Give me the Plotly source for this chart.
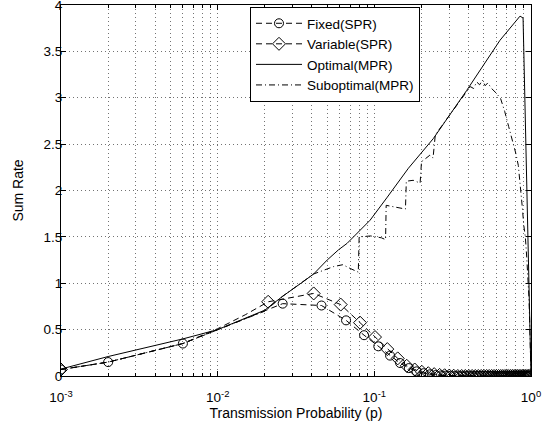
import plotly.graph_objects as go

# ---------------- data ----------------
fixed_p = [0.001, 0.002, 0.006, 0.026, 0.046, 0.066, 0.086, 0.106, 0.126, 0.146,
           0.166, 0.186, 0.206, 0.226, 0.246, 0.266, 0.286, 0.306, 0.326, 0.346,
           0.366, 0.386, 0.406, 0.426, 0.446, 0.466, 0.486, 0.506, 0.526, 0.546,
           0.566, 0.586, 0.606, 0.626, 0.646, 0.666, 0.686, 0.706, 0.726, 0.746,
           0.766, 0.786, 0.806, 0.826, 0.846, 0.866, 0.886, 0.906, 0.926, 0.946,
           0.966, 0.986]
fixed_rate = [0.07, 0.15, 0.35, 0.78, 0.76, 0.60, 0.44, 0.32, 0.22, 0.14,
              0.085, 0.05, 0.03, 0.018, 0.01, 0.006, 0.004, 0.002, 0, 0,
              0, 0, 0, 0, 0, 0, 0, 0, 0, 0,
              0, 0, 0, 0, 0, 0, 0, 0, 0, 0,
              0, 0, 0, 0, 0, 0, 0, 0, 0, 0,
              0, 0]

variable_p = [0.001, 0.002, 0.006, 0.01, 0.015, 0.021, 0.041, 0.061, 0.081, 0.101,
              0.121, 0.141, 0.161, 0.181, 0.201, 0.221, 0.241, 0.261, 0.281, 0.301,
              0.321, 0.341, 0.361, 0.381, 0.401, 0.421, 0.441, 0.461, 0.481, 0.501,
              0.521, 0.541, 0.561, 0.581, 0.601, 0.621, 0.641, 0.661, 0.681, 0.701,
              0.721, 0.741, 0.761, 0.781, 0.801, 0.821, 0.841, 0.861, 0.881, 0.901,
              0.921, 0.941, 0.961, 0.981]
variable_rate = [0.07, 0.15, 0.35, 0.51, 0.66, 0.80, 0.89, 0.77, 0.575, 0.42,
                 0.29, 0.19, 0.11, 0.07, 0.045, 0.03, 0.02, 0.012, 0.008, 0.005,
                 0.003, 0, 0, 0, 0, 0, 0, 0, 0, 0,
                 0, 0, 0, 0, 0, 0, 0, 0, 0, 0,
                 0, 0, 0, 0, 0, 0, 0, 0, 0, 0,
                 0, 0, 0, 0]
# points of the Variable(SPR) curve that carry a diamond marker
variable_marked_p = [0.001] + [p for p in variable_p if p >= 0.02]

optimal_p = [0.001, 0.002, 0.006, 0.01, 0.02, 0.026, 0.034, 0.041, 0.05, 0.059,
             0.067, 0.094, 0.12, 0.165, 0.238, 0.389, 0.634, 0.851, 0.89, 1.0]
optimal_rate = [0.075, 0.21, 0.40, 0.50, 0.71, 0.86, 1.0, 1.10, 1.25, 1.36,
                1.43, 1.68, 1.92, 2.24, 2.56, 3.08, 3.62, 3.88, 3.86, 0.0]

subopt_p = [0.001, 0.002, 0.006, 0.01, 0.02, 0.026, 0.034, 0.041, 0.055, 0.063,
            0.070, 0.079, 0.080, 0.095, 0.111, 0.118, 0.119, 0.135, 0.158, 0.16,
            0.177, 0.196, 0.20, 0.226, 0.237, 0.245, 0.30, 0.35, 0.39, 0.41,
            0.43, 0.45, 0.47, 0.49, 0.51, 0.53, 0.56, 0.60, 0.64, 0.68,
            0.72, 0.77, 0.80, 0.83, 0.86, 0.88, 0.90, 0.92, 0.94, 0.96,
            0.97, 0.98, 0.99, 1.0]
subopt_rate = [0.07, 0.15, 0.35, 0.50, 0.70, 0.86, 1.0, 1.10, 1.18, 1.20,
               1.16, 1.12, 1.50, 1.51, 1.49, 1.47, 1.84, 1.82, 1.80, 2.10,
               2.11, 2.08, 2.31, 2.38, 2.35, 2.60, 2.80, 2.96, 3.06, 3.12,
               3.10, 3.17, 3.14, 3.19, 3.13, 3.16, 3.10, 3.05, 2.99, 2.85,
               2.69, 2.52, 2.40, 2.27, 2.02, 1.82, 1.62, 1.50, 1.27, 1.05,
               0.85, 0.6, 0.2, 0.0]

x_tickvals = [0.001, 0.01, 0.1, 1]
x_ticktext = ["10<sup>-3</sup>", "10<sup>-2</sup>", "10<sup>-1</sup>", "10<sup>0</sup>"]
x_minor = [m * d for d in (0.001, 0.01, 0.1) for m in range(2, 10)]

# ---------------- figure ----------------
FONT = "Liberation Sans, Arial, Helvetica, sans-serif"
DASH = "6px,4px"
DASHDOT = "6px,3px,1px,3px"
BLACK = "black"

fig = go.Figure()

# Fixed(SPR)
fig.add_trace(go.Scatter(x=fixed_p, y=fixed_rate, mode="lines+markers",
                         line=dict(color=BLACK, width=1, dash=DASH),
                         marker=dict(symbol="circle-open", size=9, color=BLACK,
                                     line=dict(width=1, color=BLACK)),
                         name="Fixed(SPR)"))

# Variable(SPR): line through all points, diamonds on marked points
var_lookup = dict(zip(variable_p, variable_rate))
fig.add_trace(go.Scatter(x=variable_p, y=variable_rate, mode="lines",
                         line=dict(color=BLACK, width=1, dash=DASH),
                         showlegend=False))
fig.add_trace(go.Scatter(x=variable_marked_p, y=[var_lookup[p] for p in variable_marked_p],
                         mode="markers",
                         marker=dict(symbol="diamond-open", size=10, color=BLACK,
                                     line=dict(width=1, color=BLACK)),
                         showlegend=False))
fig.add_trace(go.Scatter(x=[None], y=[None], mode="lines+markers",
                         line=dict(color=BLACK, width=1, dash=DASH),
                         marker=dict(symbol="diamond-open", size=10, color=BLACK,
                                     line=dict(width=1, color=BLACK)),
                         name="Variable(SPR)"))

# Optimal(MPR)
fig.add_trace(go.Scatter(x=optimal_p, y=optimal_rate, mode="lines",
                         line=dict(color=BLACK, width=1),
                         name="Optimal(MPR)"))

# Suboptimal(MPR)
fig.add_trace(go.Scatter(x=subopt_p, y=subopt_rate, mode="lines",
                         line=dict(color=BLACK, width=1, dash=DASHDOT),
                         name="Suboptimal(MPR)"))

grid_col = "rgba(0,0,0,0.55)"
GRIDDASH = "1px,3px"

fig.update_xaxes(type="log", range=[-3, 0],
                 tickvals=x_tickvals, ticktext=x_ticktext,
                 ticks="inside", ticklen=5, tickcolor=BLACK, tickwidth=1,
                 showline=True, linecolor=BLACK, linewidth=1, mirror="ticks",
                 showgrid=True, gridcolor=grid_col, griddash=GRIDDASH, gridwidth=1,
                 zeroline=False, ticklabelstandoff=9, ticklabeloverflow="allow",
                 minor=dict(tickvals=x_minor, ticks="inside", ticklen=3,
                            tickcolor=BLACK, showgrid=True, gridcolor=grid_col,
                            griddash=GRIDDASH, gridwidth=1),
                 tickfont=dict(family=FONT, size=13.5, color=BLACK),
                 title=dict(text="Transmission Probability (p)",
                            font=dict(family=FONT, size=14, color=BLACK),
                            standoff=3))

fig.update_yaxes(range=[0, 4], tick0=0, dtick=0.5,
                 ticks="inside", ticklen=5, tickcolor=BLACK, tickwidth=1,
                 showline=True, linecolor=BLACK, linewidth=1, mirror="ticks",
                 showgrid=True, gridcolor=grid_col, griddash=GRIDDASH, gridwidth=1,
                 zeroline=False, ticklabelstandoff=-5, ticklabeloverflow="allow",
                 tickfont=dict(family=FONT, size=13.5, color=BLACK),
                 title=dict(text="Sum Rate", font=dict(family=FONT, size=14, color=BLACK),
                            standoff=16))

fig.update_layout(width=552, height=424,
                  margin=dict(l=61, r=21, t=5, b=48, autoexpand=False),
                  paper_bgcolor="white", plot_bgcolor="white",
                  font=dict(family=FONT, size=13.5, color=BLACK),
                  legend=dict(x=(250 - 61) / 470, y=(376 - 7) / 371,
                              xanchor="left", yanchor="top",
                              bgcolor="white", bordercolor=BLACK, borderwidth=1,
                              font=dict(family=FONT, size=13.5, color=BLACK),
                              itemwidth=46, traceorder="normal"),
                  showlegend=True)

fig.write_html("out.html", config={"displayModeBar": False},
               post_script="document.body.style.margin='0px';")
